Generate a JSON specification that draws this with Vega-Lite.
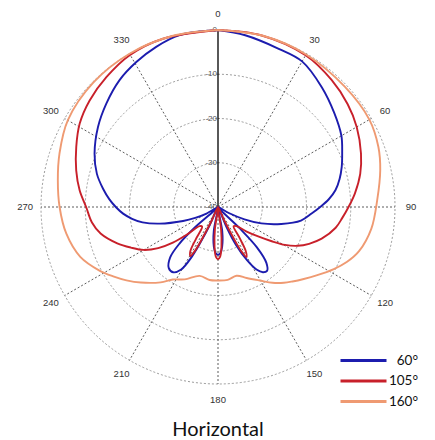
{
  "$schema": "https://vega.github.io/schema/vega-lite/v6.json",
  "width": 434,
  "height": 410,
  "autosize": {"type": "none"},
  "padding": {"left": 1, "top": 2, "right": 0, "bottom": 28},
  "background": "white",
  "title": {"text": "Horizontal", "orient": "bottom", "anchor": "middle", "font": "Lato", "fontSize": 20, "fontWeight": "normal", "color": "#111111", "offset": 8},
  "config": {"view": {"stroke": null}},
  "datasets": {
    "rings": [{"level": -30}, {"level": -20}, {"level": -10}, {"level": 0}],
    "ringlabels": [
      {"level": 0, "label": "0"}, {"level": -10, "label": "-10"}, {"level": -20, "label": "-20"},
      {"level": -30, "label": "-30"}, {"level": -40, "label": "-40"}
    ],
    "spokes": [
      {"angle": 0, "style": "solid"}, {"angle": 30, "style": "dash"}, {"angle": 60, "style": "dash"},
      {"angle": 90, "style": "dash"}, {"angle": 120, "style": "dash"}, {"angle": 150, "style": "dash"},
      {"angle": 180, "style": "dash"}, {"angle": 210, "style": "dash"}, {"angle": 240, "style": "dash"},
      {"angle": 270, "style": "dash"}, {"angle": 300, "style": "dash"}, {"angle": 330, "style": "dash"}
    ],
    "anglelabels": [
      {"angle": 0, "label": "0"}, {"angle": 30, "label": "30"}, {"angle": 60, "label": "60"},
      {"angle": 90, "label": "90"}, {"angle": 120, "label": "120"}, {"angle": 150, "label": "150"},
      {"angle": 180, "label": "180"}, {"angle": 210, "label": "210"}, {"angle": 240, "label": "240"},
      {"angle": 270, "label": "270"}, {"angle": 300, "label": "300"}, {"angle": 330, "label": "330"}
    ],
    "curves": [
      {"series": "60°", "angle": 0, "level": 0},
      {"series": "60°", "angle": 9, "level": -0.7},
      {"series": "60°", "angle": 21, "level": -1.7},
      {"series": "60°", "angle": 30, "level": -2.0},
      {"series": "60°", "angle": 41, "level": -4.2},
      {"series": "60°", "angle": 51, "level": -6.2},
      {"series": "60°", "angle": 60, "level": -7.8},
      {"series": "60°", "angle": 66.5, "level": -9.4},
      {"series": "60°", "angle": 72, "level": -10.6},
      {"series": "60°", "angle": 77, "level": -11.8},
      {"series": "60°", "angle": 81.9, "level": -13.2},
      {"series": "60°", "angle": 86, "level": -14.9},
      {"series": "60°", "angle": 90, "level": -16.9},
      {"series": "60°", "angle": 94, "level": -18.8},
      {"series": "60°", "angle": 99.3, "level": -21.0},
      {"series": "60°", "angle": 105, "level": -25.2},
      {"series": "60°", "angle": 110.7, "level": -29.5},
      {"series": "60°", "angle": 115, "level": -33.4},
      {"series": "60°", "angle": 119, "level": -37.2},
      {"series": "60°", "angle": 127, "level": -40},
      {"series": "60°", "angle": 134.5, "level": -33},
      {"series": "60°", "angle": 136, "level": -27.4},
      {"series": "60°", "angle": 139.1, "level": -23.3},
      {"series": "60°", "angle": 142.5, "level": -21.8},
      {"series": "60°", "angle": 145.5, "level": -22.1},
      {"series": "60°", "angle": 148.4, "level": -23.4},
      {"series": "60°", "angle": 151.4, "level": -26.3},
      {"series": "60°", "angle": 154.6, "level": -30.5},
      {"series": "60°", "angle": 157, "level": -35},
      {"series": "60°", "angle": 163, "level": -40},
      {"series": "60°", "angle": 170, "level": -34.5},
      {"series": "60°", "angle": 174, "level": -31},
      {"series": "60°", "angle": 177, "level": -29.6},
      {"series": "60°", "angle": 180, "level": -29.2},
      {"series": "60°", "angle": 183, "level": -29.6},
      {"series": "60°", "angle": 186, "level": -31},
      {"series": "60°", "angle": 190, "level": -34.5},
      {"series": "60°", "angle": 198, "level": -40},
      {"series": "60°", "angle": 204.5, "level": -35.5},
      {"series": "60°", "angle": 206.1, "level": -31.6},
      {"series": "60°", "angle": 207.7, "level": -27.4},
      {"series": "60°", "angle": 210.5, "level": -23.6},
      {"series": "60°", "angle": 214.5, "level": -22.1},
      {"series": "60°", "angle": 219, "level": -22.3},
      {"series": "60°", "angle": 223.5, "level": -24.3},
      {"series": "60°", "angle": 226.5, "level": -28},
      {"series": "60°", "angle": 228.5, "level": -33},
      {"series": "60°", "angle": 235, "level": -40},
      {"series": "60°", "angle": 240.4, "level": -37},
      {"series": "60°", "angle": 244.5, "level": -34.3},
      {"series": "60°", "angle": 248.2, "level": -31.5},
      {"series": "60°", "angle": 254.1, "level": -26.3},
      {"series": "60°", "angle": 258.5, "level": -22.6},
      {"series": "60°", "angle": 262.2, "level": -20.4},
      {"series": "60°", "angle": 266, "level": -18.5},
      {"series": "60°", "angle": 270, "level": -16.9},
      {"series": "60°", "angle": 274, "level": -15.4},
      {"series": "60°", "angle": 279, "level": -13.7},
      {"series": "60°", "angle": 285.4, "level": -11.6},
      {"series": "60°", "angle": 293.4, "level": -9.6},
      {"series": "60°", "angle": 303.7, "level": -7.4},
      {"series": "60°", "angle": 312.8, "level": -5.6},
      {"series": "60°", "angle": 322.2, "level": -3.7},
      {"series": "60°", "angle": 330.6, "level": -2.4},
      {"series": "60°", "angle": 338.9, "level": -1.2},
      {"series": "60°", "angle": 347.4, "level": -0.2},
      {"series": "60°", "angle": 360, "level": 0},

      {"series": "105°", "angle": 0, "level": 0},
      {"series": "105°", "angle": 14.3, "level": 0},
      {"series": "105°", "angle": 30, "level": -0.4},
      {"series": "105°", "angle": 41.9, "level": -1.5},
      {"series": "105°", "angle": 51.6, "level": -2.6},
      {"series": "105°", "angle": 60, "level": -3.8},
      {"series": "105°", "angle": 69.5, "level": -5.5},
      {"series": "105°", "angle": 76.9, "level": -7.0},
      {"series": "105°", "angle": 84.3, "level": -8.9},
      {"series": "105°", "angle": 90, "level": -10.5},
      {"series": "105°", "angle": 95, "level": -11.8},
      {"series": "105°", "angle": 100, "level": -13.0},
      {"series": "105°", "angle": 107, "level": -15.5},
      {"series": "105°", "angle": 112, "level": -17.8},
      {"series": "105°", "angle": 116, "level": -20.0},
      {"series": "105°", "angle": 119.5, "level": -22.6},
      {"series": "105°", "angle": 122.5, "level": -25.6},
      {"series": "105°", "angle": 126, "level": -28.6},
      {"series": "105°", "angle": 130.8, "level": -31.6},
      {"series": "105°", "angle": 136, "level": -34},
      {"series": "105°", "angle": 141, "level": -34.4},
      {"series": "105°", "angle": 145, "level": -31.6},
      {"series": "105°", "angle": 147.6, "level": -28.4},
      {"series": "105°", "angle": 150.3, "level": -27},
      {"series": "105°", "angle": 152.3, "level": -28.8},
      {"series": "105°", "angle": 153.5, "level": -32.3},
      {"series": "105°", "angle": 155, "level": -36.5},
      {"series": "105°", "angle": 163, "level": -40},
      {"series": "105°", "angle": 172, "level": -35},
      {"series": "105°", "angle": 175, "level": -31},
      {"series": "105°", "angle": 177.5, "level": -28.8},
      {"series": "105°", "angle": 180, "level": -28.2},
      {"series": "105°", "angle": 182.5, "level": -28.8},
      {"series": "105°", "angle": 185, "level": -31},
      {"series": "105°", "angle": 188, "level": -35},
      {"series": "105°", "angle": 197, "level": -40},
      {"series": "105°", "angle": 205, "level": -36.5},
      {"series": "105°", "angle": 206.5, "level": -32.3},
      {"series": "105°", "angle": 207.6, "level": -29},
      {"series": "105°", "angle": 209.4, "level": -27.3},
      {"series": "105°", "angle": 212, "level": -28.2},
      {"series": "105°", "angle": 214.6, "level": -31.2},
      {"series": "105°", "angle": 219, "level": -34.3},
      {"series": "105°", "angle": 224, "level": -34},
      {"series": "105°", "angle": 228, "level": -31},
      {"series": "105°", "angle": 231.7, "level": -27},
      {"series": "105°", "angle": 235.5, "level": -23.6},
      {"series": "105°", "angle": 240, "level": -20.6},
      {"series": "105°", "angle": 245, "level": -18.3},
      {"series": "105°", "angle": 250.2, "level": -15.8},
      {"series": "105°", "angle": 257.3, "level": -12.8},
      {"series": "105°", "angle": 263, "level": -11.3},
      {"series": "105°", "angle": 270, "level": -10.2},
      {"series": "105°", "angle": 276.9, "level": -8.5},
      {"series": "105°", "angle": 284.5, "level": -6.9},
      {"series": "105°", "angle": 293, "level": -5.2},
      {"series": "105°", "angle": 301.1, "level": -3.5},
      {"series": "105°", "angle": 309.7, "level": -2.3},
      {"series": "105°", "angle": 319.4, "level": -1.3},
      {"series": "105°", "angle": 329.8, "level": -0.3},
      {"series": "105°", "angle": 341.9, "level": 0},
      {"series": "105°", "angle": 360, "level": 0},

      {"series": "160°", "angle": 0, "level": 0},
      {"series": "160°", "angle": 15, "level": 0},
      {"series": "160°", "angle": 30, "level": -0.2},
      {"series": "160°", "angle": 46.6, "level": -0.5},
      {"series": "160°", "angle": 60, "level": -0.5},
      {"series": "160°", "angle": 69.5, "level": -1.3},
      {"series": "160°", "angle": 77.2, "level": -2.4},
      {"series": "160°", "angle": 87.6, "level": -4.0},
      {"series": "160°", "angle": 98, "level": -5.0},
      {"series": "160°", "angle": 107.4, "level": -6.6},
      {"series": "160°", "angle": 113, "level": -8.3},
      {"series": "160°", "angle": 118.2, "level": -10.3},
      {"series": "160°", "angle": 124.8, "level": -12.9},
      {"series": "160°", "angle": 130, "level": -14.7},
      {"series": "160°", "angle": 135, "level": -16.2},
      {"series": "160°", "angle": 139, "level": -17.3},
      {"series": "160°", "angle": 144.3, "level": -18.9},
      {"series": "160°", "angle": 150.4, "level": -20.9},
      {"series": "160°", "angle": 158, "level": -22.7},
      {"series": "160°", "angle": 164.9, "level": -23.9},
      {"series": "160°", "angle": 172.4, "level": -23.4},
      {"series": "160°", "angle": 180, "level": -23.4},
      {"series": "160°", "angle": 186.5, "level": -23.4},
      {"series": "160°", "angle": 194.9, "level": -23.9},
      {"series": "160°", "angle": 204.7, "level": -22},
      {"series": "160°", "angle": 211.9, "level": -20.7},
      {"series": "160°", "angle": 217.3, "level": -18.6},
      {"series": "160°", "angle": 225.6, "level": -15.6},
      {"series": "160°", "angle": 231.3, "level": -13.5},
      {"series": "160°", "angle": 236.5, "level": -11.6},
      {"series": "160°", "angle": 241.8, "level": -9.6},
      {"series": "160°", "angle": 250.1, "level": -6.9},
      {"series": "160°", "angle": 260, "level": -5.2},
      {"series": "160°", "angle": 270, "level": -4.2},
      {"series": "160°", "angle": 279.5, "level": -3.3},
      {"series": "160°", "angle": 288.6, "level": -2.2},
      {"series": "160°", "angle": 300, "level": -0.8},
      {"series": "160°", "angle": 315, "level": -0.2},
      {"series": "160°", "angle": 330, "level": 0},
      {"series": "160°", "angle": 345, "level": 0},
      {"series": "160°", "angle": 360, "level": 0}
    ]
  },
  "layer": [
    {
      "data": {"name": "rings"},
      "transform": [{"calculate": "datum.level + 40", "as": "r"}],
      "mark": {"type": "arc", "theta": 0, "theta2": 6.2832, "fill": "transparent", "stroke": "#9a9a9a", "strokeWidth": 1, "strokeDash": [2, 2]},
      "encoding": {
        "radius": {"field": "r", "type": "quantitative", "stack": null, "scale": {"type": "linear", "domain": [0, 40], "range": [0, 177], "zero": true}, "legend": null}
      }
    },
    {
      "data": {"name": "spokes"},
      "transform": [
        {"calculate": "40 * sin(datum.angle * PI / 180)", "as": "ex"},
        {"calculate": "40 * cos(datum.angle * PI / 180)", "as": "ey"},
        {"calculate": "0", "as": "cx"}
      ],
      "mark": {"type": "rule"},
      "encoding": {
        "x": {"field": "cx", "type": "quantitative", "scale": {"domain": [-49.04, 49.04], "nice": false, "zero": false}, "axis": null},
        "y": {"field": "cx", "type": "quantitative", "scale": {"domain": [-46.33, 46.33], "nice": false, "zero": false}, "axis": null},
        "x2": {"field": "ex"},
        "y2": {"field": "ey"},
        "stroke": {"field": "style", "type": "nominal", "scale": {"domain": ["solid", "dash"], "range": ["#000000", "#333333"]}, "legend": null},
        "strokeWidth": {"field": "style", "type": "nominal", "scale": {"domain": ["solid", "dash"], "range": [1.3, 0.8]}, "legend": null},
        "strokeDash": {"field": "style", "type": "nominal", "scale": {"domain": ["solid", "dash"], "range": [[1, 0], [2, 2]]}, "legend": null}
      }
    },
    {
      "data": {"name": "ringlabels"},
      "transform": [{"calculate": "datum.level + 40", "as": "r"}, {"calculate": "0", "as": "cx"}],
      "mark": {"type": "text", "align": "right", "baseline": "middle", "dx": -1, "font": "Liberation Sans", "fontSize": 8, "color": "#555555"},
      "encoding": {
        "x": {"field": "cx", "type": "quantitative"},
        "y": {"field": "r", "type": "quantitative"},
        "text": {"field": "label", "type": "nominal"}
      }
    },
    {
      "data": {"name": "anglelabels"},
      "transform": [
        {"calculate": "43.6 * sin(datum.angle * PI / 180)", "as": "lx"},
        {"calculate": "43.6 * cos(datum.angle * PI / 180)", "as": "ly"}
      ],
      "mark": {"type": "text", "align": "center", "baseline": "middle", "font": "Liberation Sans", "fontSize": 9.5, "color": "#333333"},
      "encoding": {
        "x": {"field": "lx", "type": "quantitative"},
        "y": {"field": "ly", "type": "quantitative"},
        "text": {"field": "label", "type": "nominal"}
      }
    },
    {
      "data": {"name": "curves"},
      "transform": [
        {"calculate": "(datum.level + 40) * sin(datum.angle * PI / 180)", "as": "px"},
        {"calculate": "(datum.level + 40) * cos(datum.angle * PI / 180)", "as": "py"}
      ],
      "mark": {"type": "line", "strokeWidth": 1.9, "strokeJoin": "round", "interpolate": "catmull-rom"},
      "encoding": {
        "x": {"field": "px", "type": "quantitative"},
        "y": {"field": "py", "type": "quantitative"},
        "order": {"field": "angle", "type": "quantitative"},
        "color": {
          "field": "series", "type": "nominal",
          "scale": {"domain": ["60°", "105°", "160°"], "range": ["#1c1cae", "#c8202a", "#ef9a72"]},
          "legend": {
            "title": null, "orient": "none", "legendX": 338, "legendY": 348.5,
            "symbolType": "stroke", "symbolSize": 2116, "symbolStrokeWidth": 3,
            "labelFont": "Lato", "labelFontSize": 13.5, "labelColor": "#111111",
            "labelAlign": "right", "labelOffset": 30, "clipHeight": 20, "rowPadding": 0.5, "padding": 0
          }
        }
      }
    }
  ]
}
